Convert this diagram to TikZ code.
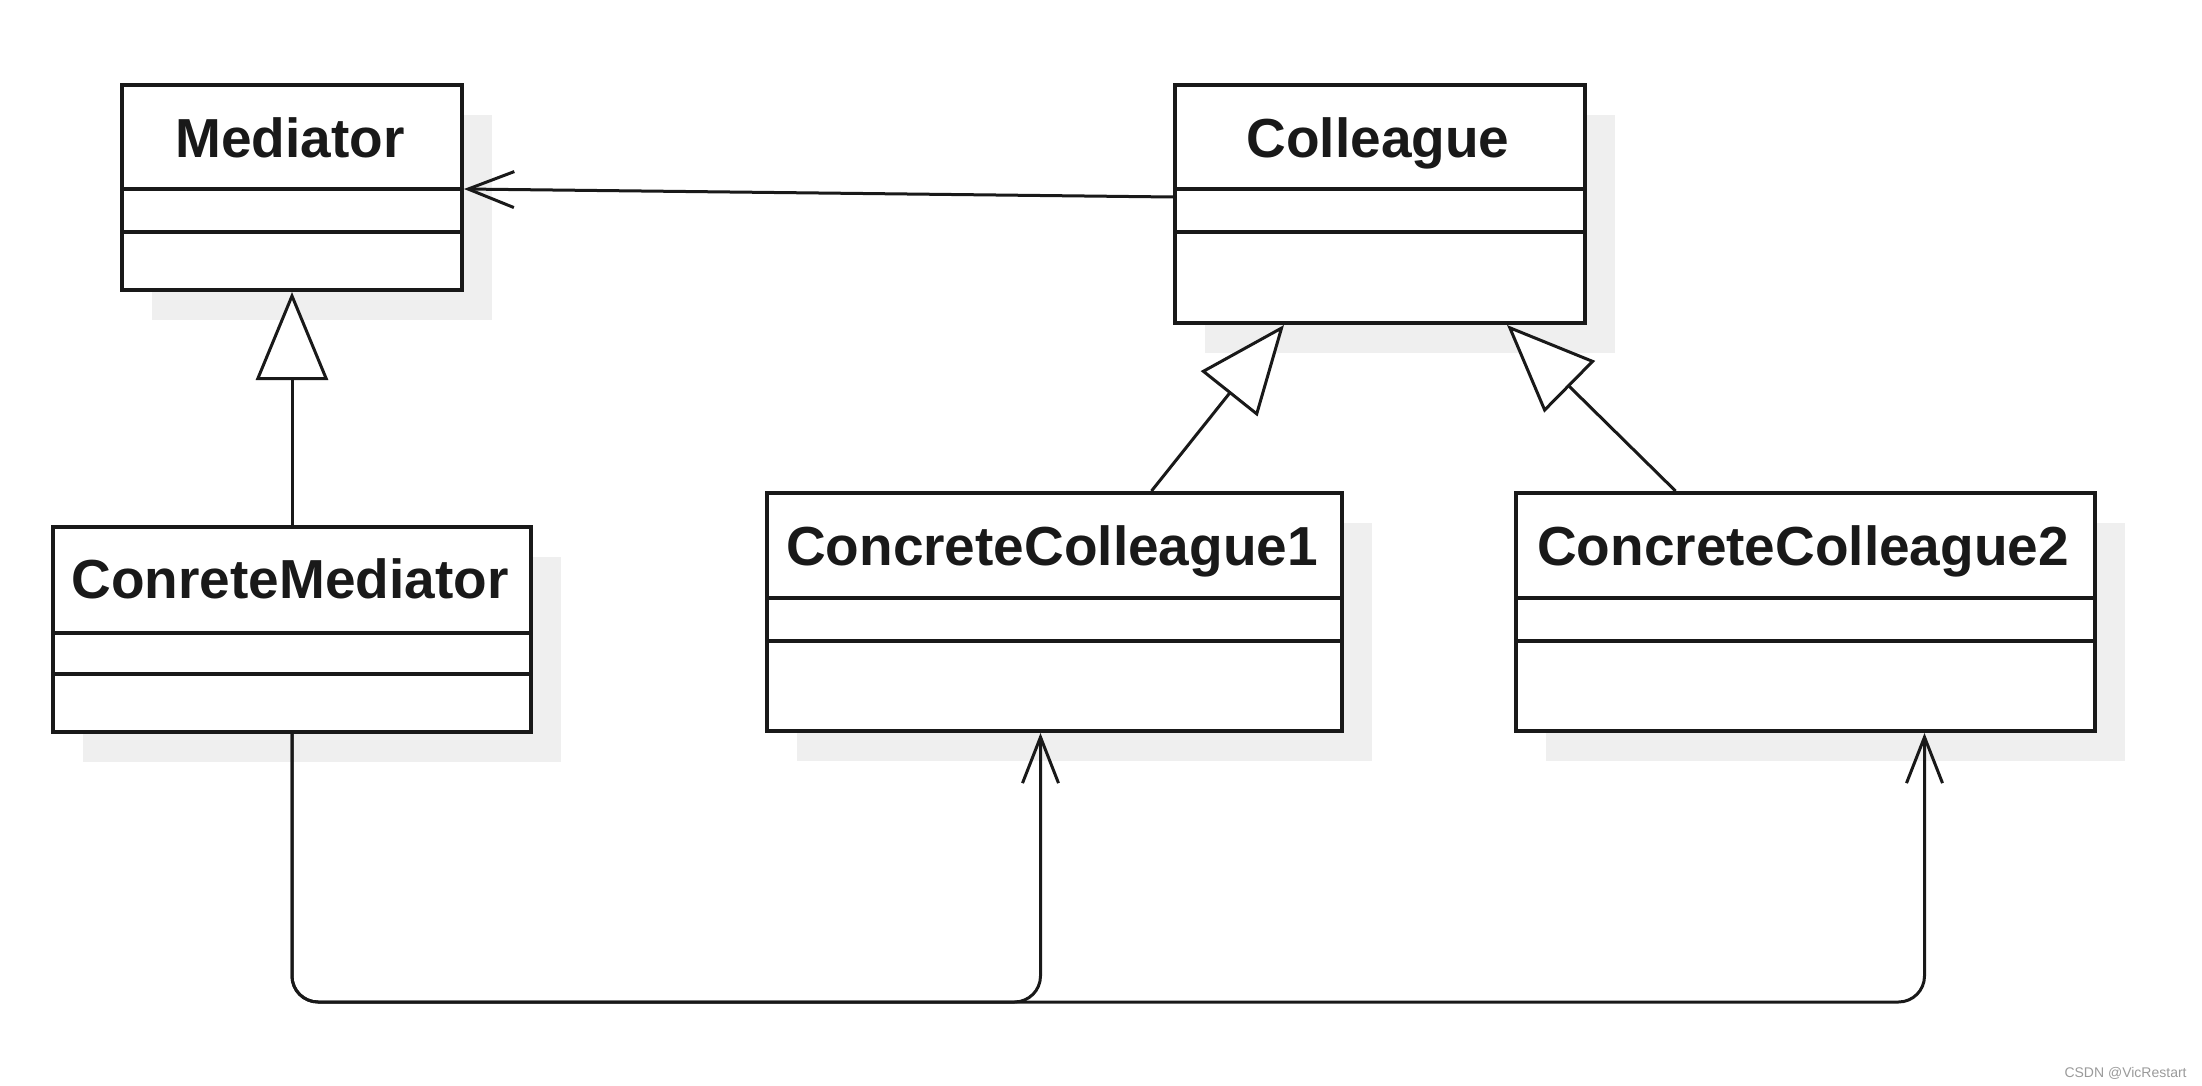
\documentclass[tikz,border=0pt]{standalone}
\usepackage{fontspec}
\setmainfont{Liberation Sans}
\usetikzlibrary{arrows.meta,calc,shadows}
\definecolor{shadowgray}{HTML}{EFEFEF}
\definecolor{wmgray}{HTML}{9A9A9A}
\tikzset{
  classbox/.style={draw=black!90, line width=2pt, fill=white, rectangle, inner sep=0pt, anchor=north west,
    general shadow={fill=shadowgray, shadow xshift=15pt, shadow yshift=-15pt}},
  classtitle/.style={font=\fontsize{27.5}{30}\selectfont\bfseries, anchor=base, inner sep=0pt, text=black!90},
  divider/.style={draw=black!90, line width=1.6pt},
  assoc/.style={draw=black!90, line width=1.5pt, -{Straight Barb[length=23pt,width=18pt,line width=1.5pt]}},
  inherit/.style={draw=black!90, line width=1.5pt, -{Triangle[open,fill=white,length=44pt,width=36pt,line width=1.5pt]}},
}
\begin{document}
\begin{tikzpicture}[x=0.5pt,y=-0.5pt]
\useasboundingbox (0,0) rectangle (2202,1086);
% classes
\node[classbox, minimum width=170pt, minimum height=102.5pt] (med) at (120,83) {};
\node[classbox, minimum width=205pt, minimum height=119pt] (col) at (1173,83) {};
\node[classbox, minimum width=239pt, minimum height=102.5pt] (cmed) at (51,525) {};
\node[classbox, minimum width=287.5pt, minimum height=119pt] (cc1) at (765,491) {};
\node[classbox, minimum width=289.5pt, minimum height=119pt] (cc2) at (1514,491) {};
% dividers
\draw[divider] (120,189) -- (460,189);
\draw[divider] (120,232) -- (460,232);
\draw[divider] (1173,189) -- (1583,189);
\draw[divider] (1173,232) -- (1583,232);
\draw[divider] (51,633) -- (529,633);
\draw[divider] (51,674) -- (529,674);
\draw[divider] (765,598) -- (1340,598);
\draw[divider] (765,641) -- (1340,641);
\draw[divider] (1514,598) -- (2093,598);
\draw[divider] (1514,641) -- (2093,641);
% titles
\node[classtitle] (medT) at (290,157) {Mediator};
\node[classtitle] (colT) at (1378,157) {Colleague};
\node[classtitle] (cmedT) at (290,598) {ConreteMediator};
\node[classtitle] (cc1T) at (1052,565) {ConcreteColleague1};
\node[classtitle] (cc2T) at (1803,565) {ConcreteColleague2};
% connectors
\draw[assoc] ($(col.north west)+(0,114)$) -- ($(med.north east)+(0,106)$);
\draw[inherit] (cmed.north) -- (med.south);
\draw[inherit] ($(cc1.north)+(97,0)$) -- ($(col.south)+(-96,0)$);
\draw[inherit] ($(cc2.north)+(-130,0)$) -- ($(col.south)+(127,0)$);
\coordinate (bot) at (0,1002);
\draw[assoc, rounded corners=13pt] (cmed.south) -- (cmed.south |- bot) -| ($(cc1.south)+(-14,0)$);
\draw[assoc, rounded corners=13pt] (cmed.south) -- (cmed.south |- bot) -| ($(cc2.south)+(119,0)$);
% watermark
\node[anchor=base east, inner sep=0pt, text=wmgray, font=\fontsize{7}{8}\selectfont] (wm) at (2187,1077) {CSDN @VicRestart};
\end{tikzpicture}
\end{document}
